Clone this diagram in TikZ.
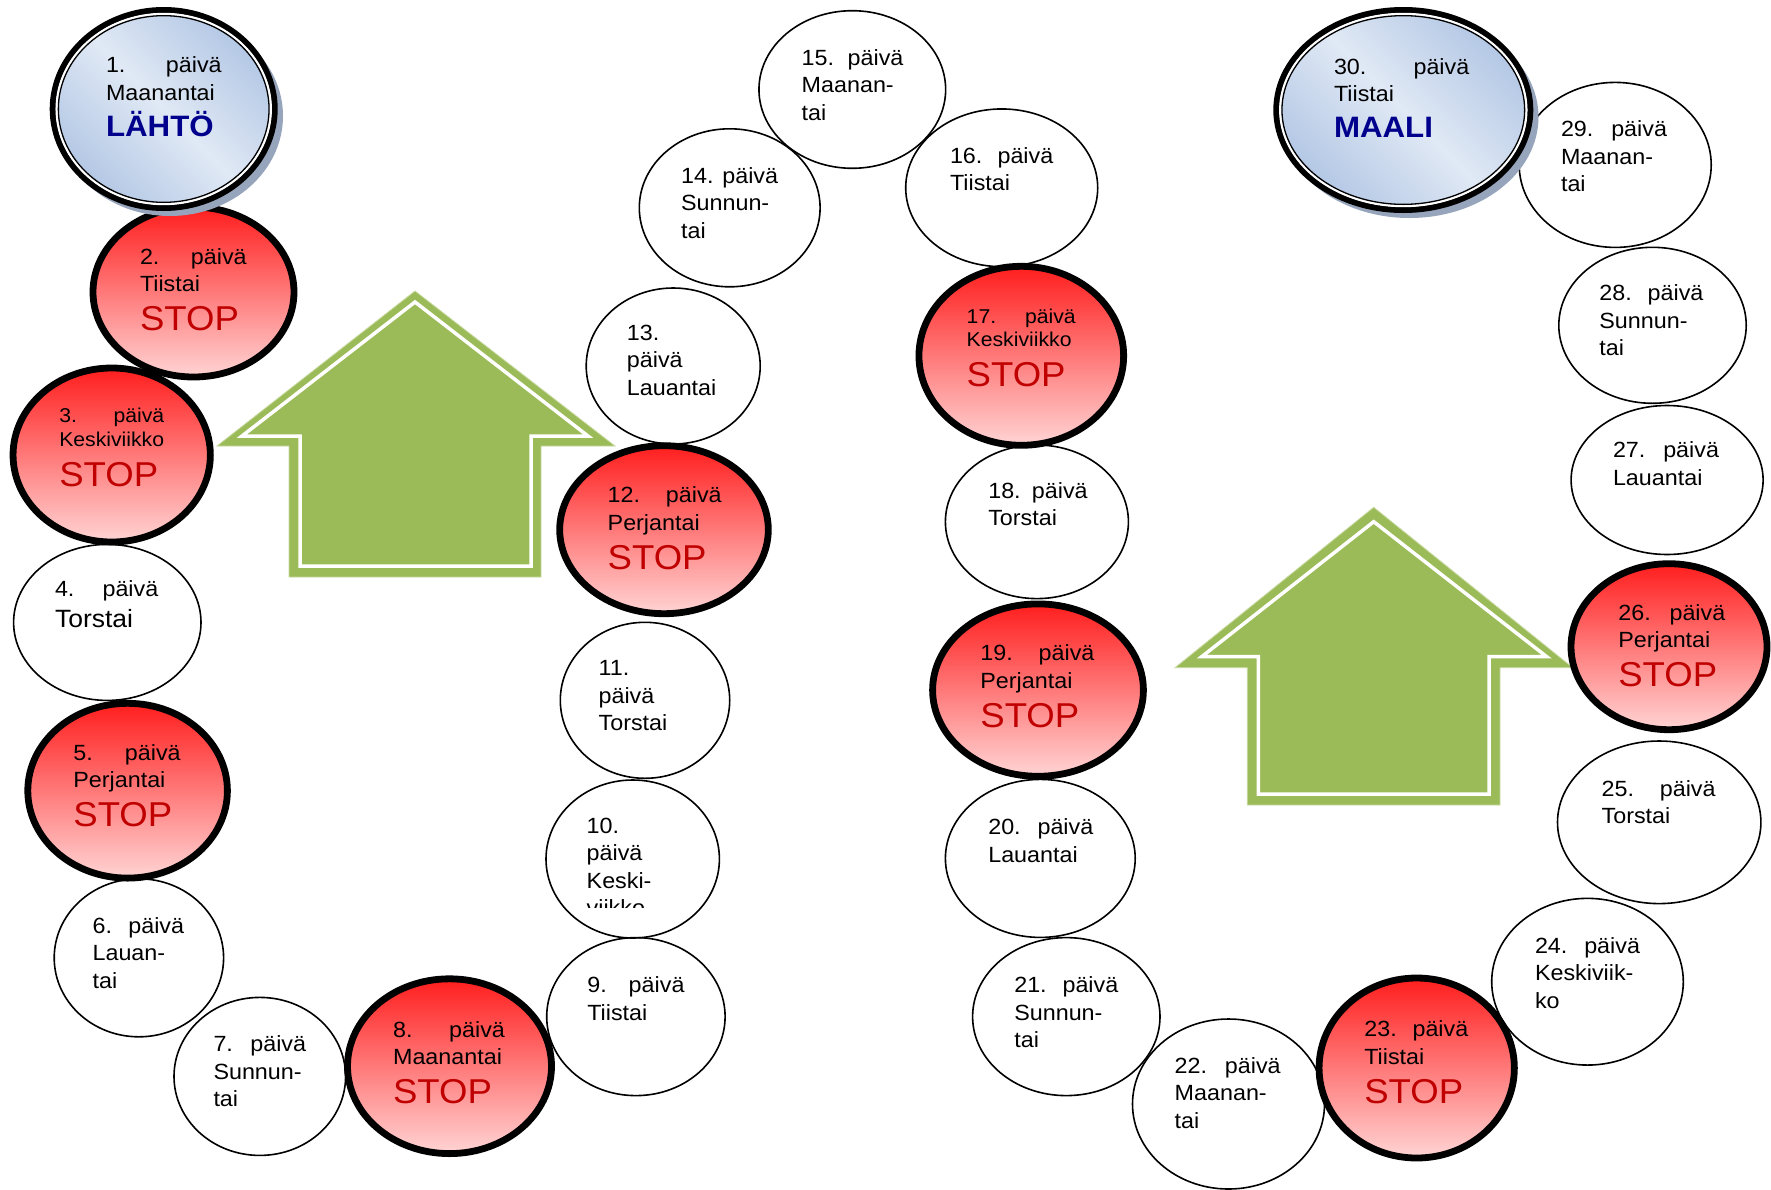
\documentclass[tikz,border=0pt]{standalone}
\usepackage{fontspec}
\setmainfont{Liberation Sans}[FakeStretch=1.06]
\usetikzlibrary{shapes.geometric}
\definecolor{stopred}{RGB}{192,0,0}
\definecolor{stoptop}{RGB}{255,30,30}
\definecolor{stopbot}{RGB}{255,212,212}
\definecolor{goalblue}{RGB}{0,0,140}
\definecolor{arrowgreen}{RGB}{155,187,89}
\definecolor{arrowedge}{RGB}{200,218,160}
\definecolor{bluedark}{RGB}{178,198,228}
\definecolor{bluelight}{RGB}{224,233,245}
\definecolor{shadowcol}{RGB}{150,165,188}

\newcommand\dayblock[1]{\vtop{\baselineskip=27.5pt\lineskiplimit=-100pt\lineskip=0pt #1}}
\newcommand\smallblock[1]{\vtop{\fontsize{20}{23.3}\selectfont\baselineskip=23.3pt\lineskiplimit=-100pt\lineskip=0pt #1}}
\newcommand\dl[1]{\hbox{#1}}
\newcommand\dayhd[2]{\hbox to #1pt{#2\hfill päivä}}
\newcommand\stopline[1]{\vskip#1pt\hbox{\fontsize{34.5}{34}\selectfont\color{stopred}STOP}}
\newcommand\goalline[2]{\vskip#1pt\hbox{\fontsize{29.5}{30}\selectfont\bfseries\color{goalblue}#2}}

\begin{document}
\begin{tikzpicture}[x=1pt,y=-1pt,
  sz/.style 2 args={minimum width=#1pt,minimum height=#2pt},
  day/.style={ellipse, draw=black, line width=1.6pt, inner sep=0pt, outer sep=0pt},
  stopday/.style={ellipse, draw=black, line width=6.8pt, top color=stoptop, bottom color=stopbot, inner sep=0pt, outer sep=0pt},
  goalday/.style={ellipse, draw=black, line width=6pt, top color=bluedark, bottom color=bluedark, middle color=bluelight, shading angle=-45, inner sep=0pt, outer sep=0pt},
  goalshadow/.style={ellipse, fill=shadowcol, inner sep=0pt, outer sep=0pt},
  ringwhite/.style={ellipse, draw=white, line width=2.4pt, inner sep=0pt, outer sep=0pt},
  ringblack/.style={ellipse, draw=black, line width=1.3pt, inner sep=0pt, outer sep=0pt},
  txt/.style={anchor=base west, inner sep=0pt, outer sep=0pt, font=\fontsize{22}{27.5}\selectfont},
  arrowbody/.style={fill=arrowgreen, draw=arrowedge, line width=0.8pt},
  arrowline/.style={draw=white, line width=3.5pt, line join=miter}
]
\useasboundingbox (0,0) rectangle (1771,1189);
\fill[white] (0,0) rectangle (1771,1189);

% green arrows
\path[arrowbody] (415,291) -- (615,446) -- (541,446) -- (541,577) -- (289,577) -- (289,446) -- (217,446) -- cycle;
\path[arrowline] (415,302) -- (588,436) -- (531,436) -- (531,566) -- (300,566) -- (300,436) -- (242,436) -- cycle;
\path[arrowbody] (1373.7,507.3) -- (1572.7,667.7) -- (1500,667.7) -- (1500,805) -- (1247.3,805) -- (1247.3,667.7) -- (1175,667.7) -- cycle;
\path[arrowline] (1373.7,521.7) -- (1546.7,656.7) -- (1489,656.7) -- (1489,794) -- (1258.3,794) -- (1258.3,656.7) -- (1201.7,656.7) -- cycle;

% plain days
\node[day, sz={187.4}{156}] (d4) at (107.3,622.4) {};
\node[day, sz={169.4}{158}] (d6) at (138.9,957.8) {};
\node[day, sz={171.6}{158}] (d7) at (259.8,1076.4) {};
\node[day, sz={178.4}{158}] (d9) at (635.9,1016.6) {};
\node[day, sz={173.4}{158}] (d10) at (632.7,859) {};
\node[day, sz={169.4}{156}] (d11) at (645,700.3) {};
\node[day, sz={174}{156}] (d13) at (673.2,366) {};
\node[day, sz={180.8}{158}] (d14) at (729.7,207.8) {};
\node[day, sz={186.7}{157.6}] (d15) at (852.3,89.5) {};
\node[day, sz={192}{157.7}] (d16) at (1001.7,187.8) {};
\node[day, sz={183}{153.6}] (d18) at (1036.9,521.8) {};
\node[day, sz={189.8}{158}] (d20) at (1040.3,858.4) {};
\node[day, sz={187.4}{158}] (d21) at (1066.3,1016.6) {};
\node[day, sz={192}{170}] (d22) at (1228.5,1104) {};
\node[day, sz={191.6}{166.7}] (d24) at (1587.5,981.7) {};
\node[day, sz={203.4}{162.6}] (d25) at (1659.2,822.3) {};
\node[day, sz={192}{149}] (d27) at (1667.1,480) {};
\node[day, sz={187.4}{156}] (d28) at (1652.5,325.3) {};
\node[day, sz={192}{165}] (d29) at (1615.2,164.9) {};

% stop days
\node[stopday, sz={201}{170}] (d2) at (193.5,292) {};
\node[stopday, sz={197.3}{174}] (d3) at (111.7,455) {};
\node[stopday, sz={199.6}{174.8}] (d5) at (127.6,790.7) {};
\node[stopday, sz={204}{174.8}] (d8) at (449.5,1066.2) {};
\node[stopday, sz={208.6}{168}] (d12) at (664,529.7) {};
\node[stopday, sz={204.7}{179}] (d17) at (1021.3,355.8) {};
\node[stopday, sz={210.8}{172.4}] (d19) at (1038,690.1) {};
\node[stopday, sz={195.3}{180}] (d23) at (1416.7,1068) {};
\node[stopday, sz={196}{166}] (d26) at (1669,646.7) {};

% start and goal
\node[goalshadow, sz={226}{200}] (d1s) at (170,116) {};
\node[goalday, sz={222}{198}] (d1) at (163.7,109) {};
\node[ringwhite, sz={214}{190}] (d1w) at (d1) {};
\node[ringblack, sz={210.7}{186.7}] (d1k) at (d1) {};
\node[goalshadow, sz={258}{202}] (d30s) at (1409.5,117) {};
\node[goalday, sz={254}{200}] (d30) at (1403.3,110) {};
\node[ringwhite, sz={246}{192}] (d30w) at (d30) {};
\node[ringblack, sz={242.7}{188.7}] (d30k) at (d30) {};

% texts
\node[txt] (t1) at (106,72.7) {\dayblock{\dayhd{115.7}{1.}\dl{Maanantai}\goalline{8.5}{LÄHTÖ}}};
\node[txt] (t2) at (140,264.3) {\dayblock{\dayhd{106.7}{2.}\dl{Tiistai}\stopline{11.5}}};
\node[txt] (t3) at (59.3,422.7) {\smallblock{\dayhd{105}{3.}\dl{Keskiviikko}\stopline{16.7}}};
\node[txt] (t4) at (55,596.7) {\dayblock{\dayhd{103.3}{4.}\vskip3.1pt\hbox{\fontsize{25}{25}\selectfont Torstai}}};
\node[txt] (t5) at (73.4,760.2) {\dayblock{\dayhd{107.3}{5.}\dl{Perjantai}\stopline{11.5}}};
\node[txt] (t6) at (92.6,933.1) {\dayblock{\dayhd{91.5}{6.}\dl{Lauan-}\dl{tai}}};
\node[txt] (t7) at (213.5,1051.7) {\dayblock{\dayhd{92.6}{7.}\dl{Sunnun-}\dl{tai}}};
\node[txt] (t8) at (393.1,1037) {\dayblock{\dayhd{111.8}{8.}\dl{Maanantai}\stopline{11.5}}};
\node[txt] (t9) at (587.3,992.9) {\dayblock{\dayhd{97.2}{9.}\dl{Tiistai}}};
\begin{scope}
\clip (570,800) rectangle (710,907);
\node[txt] (t10) at (586.7,833.3) {\dayblock{\dl{10.}\dl{päivä}\dl{Keski-}\dl{viikko}}};
\end{scope}
\node[txt] (t11) at (598.6,675.5) {\dayblock{\dl{11.}\dl{päivä}\dl{Torstai}}};
\node[txt] (t12) at (607.7,502.7) {\dayblock{\dayhd{114}{12.}\dl{Perjantai}\stopline{11.5}}};
\node[txt] (t13) at (626.9,340) {\dayblock{\dl{13.}\dl{päivä}\dl{Lauantai}}};
\node[txt] (t14) at (681.1,183.1) {\dayblock{\dayhd{97}{14.}\dl{Sunnun-}\dl{tai}}};
\node[txt] (t15) at (801.7,65) {\dayblock{\dayhd{101.7}{15.}\dl{Maanan-}\dl{tai}}};
\node[txt] (t16) at (950,163.3) {\dayblock{\dayhd{103.3}{16.}\dl{Tiistai}}};
\node[txt] (t17) at (966.7,323.3) {\smallblock{\dayhd{109}{17.}\dl{Keskiviikko}\stopline{16.7}}};
\node[txt] (t18) at (988.3,498.2) {\dayblock{\dayhd{99.4}{18.}\dl{Torstai}}};
\node[txt] (t19) at (980.4,660.9) {\dayblock{\dayhd{114}{19.}\dl{Perjantai}\stopline{11.5}}};
\node[txt] (t20) at (988.3,834.8) {\dayblock{\dayhd{105}{20.}\dl{Lauantai}}};
\node[txt] (t21) at (1014.3,992.9) {\dayblock{\dayhd{104}{21.}\dl{Sunnun-}\dl{tai}}};
\node[txt] (t22) at (1174.7,1073.1) {\dayblock{\dayhd{106}{22.}\dl{Maanan-}\dl{tai}}};
\node[txt] (t23) at (1364.3,1036.7) {\dayblock{\dayhd{104}{23.}\dl{Tiistai}\stopline{11.5}}};
\node[txt] (t24) at (1535,953.3) {\dayblock{\dayhd{105}{24.}\dl{Keskiviik-}\dl{ko}}};
\node[txt] (t25) at (1601.6,796.4) {\dayblock{\dayhd{114}{25.}\dl{Torstai}}};
\node[txt] (t26) at (1618.3,620) {\dayblock{\dayhd{107}{26.}\dl{Perjantai}\stopline{11.5}}};
\node[txt] (t27) at (1613,457.5) {\dayblock{\dayhd{106}{27.}\dl{Lauantai}}};
\node[txt] (t28) at (1599.4,300.5) {\dayblock{\dayhd{104}{28.}\dl{Sunnun-}\dl{tai}}};
\node[txt] (t29) at (1561,136.8) {\dayblock{\dayhd{106}{29.}\dl{Maanan-}\dl{tai}}};
\node[txt] (t30) at (1334,74) {\dayblock{\dayhd{135.3}{30.}\dl{Tiistai}\goalline{8.1}{MAALI}}};
\end{tikzpicture}
\end{document}
